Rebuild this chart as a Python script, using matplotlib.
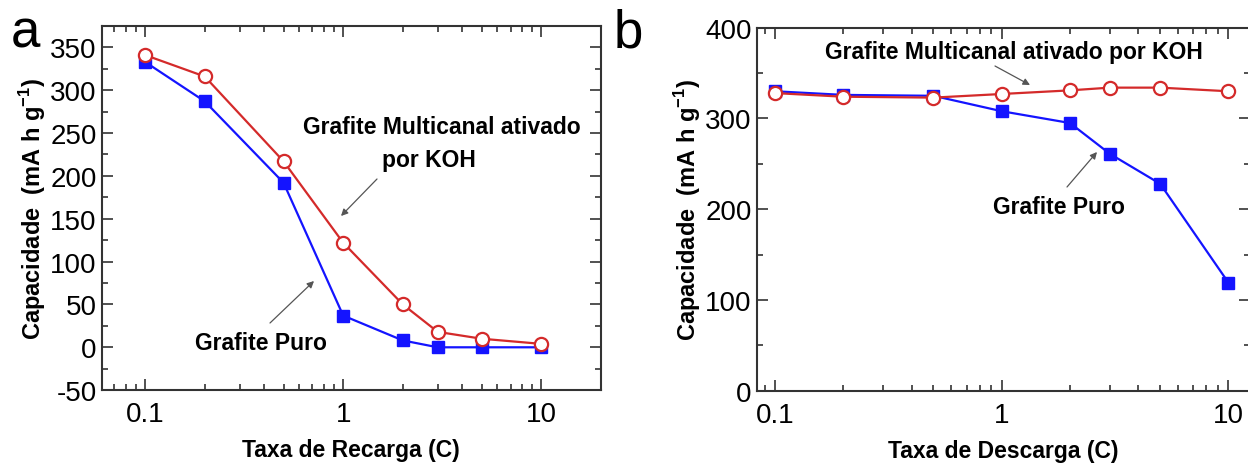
import matplotlib
matplotlib.use("Agg")
import matplotlib.pyplot as plt
from matplotlib.patches import FancyArrowPatch
from matplotlib.ticker import MultipleLocator, FixedLocator, FixedFormatter

plt.rcParams['font.family'] = ['Liberation Sans', 'DejaVu Sans']
plt.rcParams['mathtext.fontset'] = 'custom'
plt.rcParams['mathtext.rm'] = 'Liberation Sans'
plt.rcParams['mathtext.bf'] = 'Liberation Sans:bold'
plt.rcParams['axes.unicode_minus'] = False

# data
rates = [0.1, 0.2, 0.5, 1, 2, 3, 5, 10]

# panel a: recharge
recarga_koh = [341, 316, 217, 122, 50, 18, 10, 4]
recarga_puro = [333, 287, 192, 37, 8, 0, 0, 0]

# panel b: discharge
descarga_koh = [328, 324, 323, 327, 331, 334, 334, 330]
descarga_puro = [330, 326, 325, 308, 295, 261, 228, 119]

xtick_vals = [0.1, 1, 10]
xtick_labels = ['0.1', '1', '10']

red = '#d42a2a'
blue = '#1414ff'
spine_col = '#333333'
H = 464  # figure height in px, text positions below are from the top

fig = plt.figure(figsize=(12.48, 4.64), dpi=100)
ax_a = fig.add_axes([0.0815, 0.157, 0.400, 0.785])
ax_b = fig.add_axes([0.6063, 0.156, 0.395, 0.782])


def style(ax, ymin, ymax, ymajor, yminor, xmin, xmax):
    ax.set_xscale('log')
    ax.set_xlim(xmin, xmax)
    ax.set_ylim(ymin, ymax)
    ax.xaxis.set_major_locator(FixedLocator(xtick_vals))
    ax.xaxis.set_major_formatter(FixedFormatter(xtick_labels))
    ax.yaxis.set_major_locator(MultipleLocator(ymajor))
    ax.yaxis.set_minor_locator(MultipleLocator(yminor))
    ax.tick_params(which='both', direction='in', top=True, right=True,
                   color=spine_col, width=1.2, labelsize=20)
    ax.tick_params(which='major', length=8)
    ax.tick_params(which='minor', length=4)
    ax.tick_params(axis='x', which='major', pad=8)
    for s in ax.spines.values():
        s.set_color(spine_col)
        s.set_linewidth(1.5)
    ax.set_ylabel(r'Capacidade  (mA h g$^{\mathbf{-1}}$)', fontsize=17,
                  fontweight='bold', labelpad=2)


def draw(ax, puro, koh):
    ax.plot(rates, puro, color=blue, lw=1.6, marker='s', ms=8.5,
            mfc=blue, mec=blue, zorder=3)
    ax.plot(rates, koh, color=red, lw=1.6, marker='o', ms=9.5,
            mfc='white', mec=red, mew=1.6, zorder=4)


def label(x, y, s):
    fig.text(x / 1248, 1 - y / H, s, fontsize=16.5, fontweight='bold',
             ha='center', va='center')


def arrow(x0, y0, x1, y1):
    fig.add_artist(FancyArrowPatch((x0, H - y0), (x1, H - y1), transform=None,
                                   arrowstyle='-|>', color='#555555', lw=0.9,
                                   mutation_scale=10, shrinkA=0, shrinkB=0))


# panel a
draw(ax_a, recarga_puro, recarga_koh)
style(ax_a, -50, 375, 50, 25, 0.0604, 20)
ax_a.set_xlabel('Taxa de Recarga (C)', fontsize=16.5, fontweight='bold', labelpad=8)
label(442, 127, 'Grafite Multicanal ativado')
label(429, 161, 'por KOH')
label(261, 344, 'Grafite Puro')
arrow(377, 180, 341, 217)
arrow(270, 324, 314, 282)
fig.text(25 / 1248, 1 - 33 / H, 'a', fontsize=38, ha='center', va='center')

# panel b
draw(ax_b, descarga_puro, descarga_koh)
style(ax_b, 0, 400, 100, 50, 0.083, 12.4)
ax_b.set_xlabel('Taxa de Descarga (C)', fontsize=16.5, fontweight='bold', labelpad=8)
label(1014, 53, 'Grafite Multicanal ativado por KOH')
label(1059, 208, 'Grafite Puro')
arrow(995, 67, 1030, 86)
arrow(1067, 188, 1097, 153)
fig.text(628 / 1248, 1 - 33 / H, 'b', fontsize=38, ha='center', va='center')

fig.savefig('out.png', dpi=100)
